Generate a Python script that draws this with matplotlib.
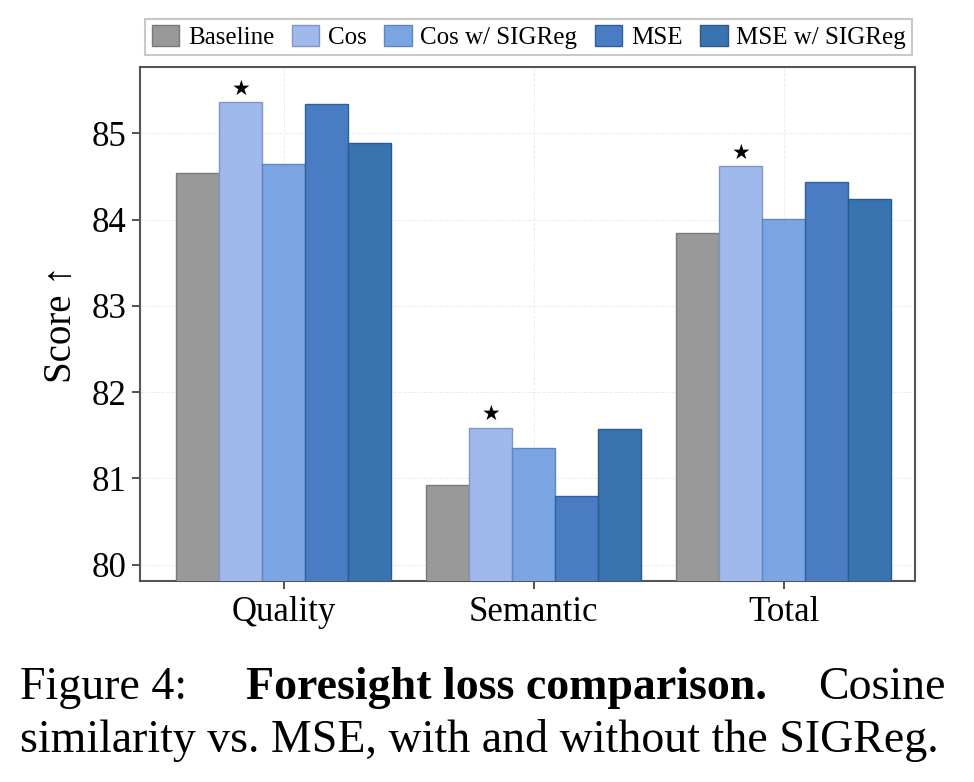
import matplotlib
matplotlib.use("Agg")
import numpy as np
import matplotlib.pyplot as plt

# ----------------------------
# Data
# ----------------------------
CATEGORIES = ["Quality", "Semantic", "Total"]
METHODS = ["Baseline", "Cos", "Cos w/ SIGReg", "MSE", "MSE w/ SIGReg"]

BASELINE = [84.54, 80.92, 83.84]
COS = [85.36, 81.59, 84.62]
COS_SIGREG = [84.65, 81.35, 84.01]
MSE = [85.34, 80.80, 84.44]
MSE_SIGREG = [84.89, 81.57, 84.24]

# best method per category gets a star
BEST = [1, 1, 1]

FACE_COLORS = ["#999999", "#a0b9ec", "#7ba4e2", "#4a7cc3", "#3a74b0"]
EDGE_COLORS = ["#7a7a7a", "#7f95c4", "#5f86c0", "#31609f", "#2a5a8c"]

plt.rcParams["font.family"] = ["Liberation Serif", "DejaVu Serif"]

fig = plt.figure(figsize=(9.74, 7.82), dpi=100)
ax = fig.add_axes([0.1437, 0.257, 0.7957, 0.6573])

series = [BASELINE, COS, COS_SIGREG, MSE, MSE_SIGREG]
x = np.arange(len(CATEGORIES))
width = 0.172
offsets = (np.arange(len(METHODS)) - 2) * width

handles = []
for i, (name, vals) in enumerate(zip(METHODS, series)):
    bars = ax.bar(x + offsets[i], vals, width, color=FACE_COLORS[i],
                  edgecolor=EDGE_COLORS[i], linewidth=1.0, label=name, zorder=3)
    handles.append(bars)

# stars above best bars
for ci, mi in enumerate(BEST):
    ax.text(x[ci] + offsets[mi], series[mi][ci] + 0.04, "\u2605",
            ha="center", va="bottom", fontsize=15,
            family=["DejaVu Sans"], zorder=4)

ax.set_ylim(79.81, 85.77)
ax.set_xlim(-0.575, 2.525)
ax.set_yticks([80, 81, 82, 83, 84, 85])
ax.set_xticks(x)
ax.set_xticklabels(CATEGORIES)
ax.tick_params(axis="both", labelsize=25, length=6, width=1.2, color="#333333")
ax.tick_params(axis="x", pad=5)
ax.tick_params(axis="y", pad=4)
ax.set_ylabel("Score \u2191", fontsize=28, labelpad=8)

for sp in ax.spines.values():
    sp.set_color("#555555")
    sp.set_linewidth(1.5)

ax.grid(True, linestyle="--", linewidth=0.7, color="#ececec", zorder=0)
ax.set_axisbelow(True)

leg = fig.legend(handles=handles, labels=METHODS, loc="center",
                 bbox_to_anchor=(0.543, 0.953), ncol=5, fontsize=18,
                 frameon=True, fancybox=False, edgecolor="#bbbbbb",
                 handlelength=1.1, handleheight=0.9, handletextpad=0.35,
                 columnspacing=0.7, borderpad=0.25, borderaxespad=0)
leg.get_frame().set_linewidth(1.5)

# ----------------------------
# Caption
# ----------------------------
cap_size = 33
fig.text(20 / 974, 1 - 688 / 782, "Figure 4:", fontsize=cap_size, ha="left", va="center")
fig.text(506 / 974, 1 - 688 / 782, "Foresight loss comparison.", fontsize=cap_size,
         fontweight="bold", ha="center", va="center")
fig.text(946 / 974, 1 - 688 / 782, "Cosine", fontsize=cap_size, ha="right", va="center")
fig.text(20 / 974, 1 - 741 / 782, "similarity vs. MSE, with and without the SIGReg.",
         fontsize=cap_size, ha="left", va="center")

plt.savefig("out.png", dpi=100)
plt.close()
